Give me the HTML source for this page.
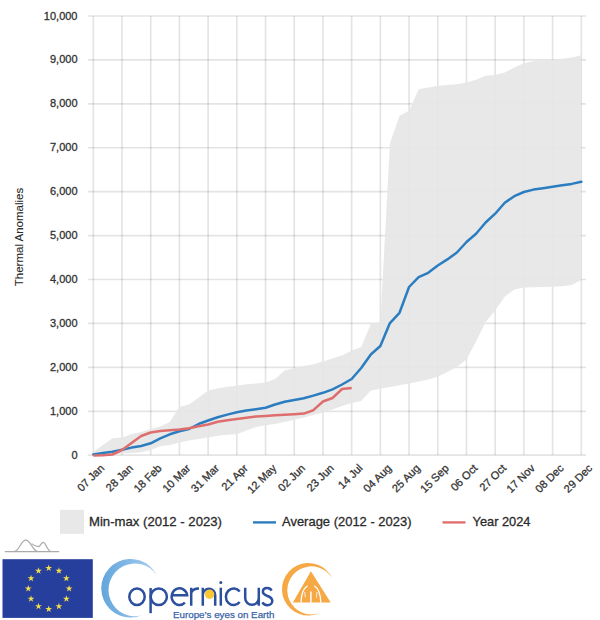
<!DOCTYPE html>
<html><head><meta charset="utf-8"><style>
html,body{margin:0;padding:0;background:#fff;}
body{width:600px;height:620px;overflow:hidden;position:relative;font-family:"Liberation Sans",sans-serif;}
svg{position:absolute;left:0;top:0;}
</style></head><body>
<svg width="600" height="620" viewBox="0 0 600 620" font-family="Liberation Sans, sans-serif">
<defs><linearGradient id="cg" x1="0" y1="0" x2="1" y2="0"><stop offset="0" stop-color="#62a6dc"/><stop offset="1" stop-color="#a6cdee"/></linearGradient></defs>
<rect width="600" height="620" fill="#fff"/>
<g stroke="#000" stroke-opacity="0.105" stroke-width="1.7">
<line x1="88" y1="455.20" x2="586" y2="455.20"/><line x1="88" y1="411.28" x2="586" y2="411.28"/><line x1="88" y1="367.36" x2="586" y2="367.36"/><line x1="88" y1="323.44" x2="586" y2="323.44"/><line x1="88" y1="279.52" x2="586" y2="279.52"/><line x1="88" y1="235.60" x2="586" y2="235.60"/><line x1="88" y1="191.68" x2="586" y2="191.68"/><line x1="88" y1="147.76" x2="586" y2="147.76"/><line x1="88" y1="103.84" x2="586" y2="103.84"/><line x1="88" y1="59.92" x2="586" y2="59.92"/><line x1="88" y1="16.00" x2="586" y2="16.00"/><line x1="93.30" y1="16" x2="93.30" y2="455"/><line x1="122.01" y1="16" x2="122.01" y2="455"/><line x1="150.71" y1="16" x2="150.71" y2="455"/><line x1="179.42" y1="16" x2="179.42" y2="455"/><line x1="208.12" y1="16" x2="208.12" y2="455"/><line x1="236.83" y1="16" x2="236.83" y2="455"/><line x1="265.54" y1="16" x2="265.54" y2="455"/><line x1="294.24" y1="16" x2="294.24" y2="455"/><line x1="322.95" y1="16" x2="322.95" y2="455"/><line x1="351.65" y1="16" x2="351.65" y2="455"/><line x1="380.36" y1="16" x2="380.36" y2="455"/><line x1="409.06" y1="16" x2="409.06" y2="455"/><line x1="437.77" y1="16" x2="437.77" y2="455"/><line x1="466.48" y1="16" x2="466.48" y2="455"/><line x1="495.18" y1="16" x2="495.18" y2="455"/><line x1="523.89" y1="16" x2="523.89" y2="455"/><line x1="552.59" y1="16" x2="552.59" y2="455"/><line x1="581.30" y1="16" x2="581.30" y2="455"/>
</g>
<path d="M93.30,451.70 L102.87,445.00 L112.44,438.30 L122.01,437.50 L131.57,434.00 L141.14,432.00 L150.71,429.00 L160.28,426.50 L169.85,422.00 L179.42,407.00 L188.99,404.50 L198.55,397.75 L208.12,390.50 L217.69,388.40 L227.26,386.70 L236.83,385.70 L246.40,384.30 L255.97,383.40 L265.54,382.40 L275.10,378.90 L284.67,370.50 L294.24,367.90 L303.81,366.00 L313.38,364.30 L322.95,361.50 L332.52,358.50 L342.08,355.50 L351.65,350.60 L361.22,347.00 L370.79,324.00 L380.36,322.00 L389.93,143.60 L399.50,115.80 L409.06,110.80 L418.63,89.20 L428.20,87.50 L437.77,85.80 L447.34,85.00 L456.91,84.20 L466.48,82.50 L476.05,79.70 L485.61,75.80 L495.18,75.00 L504.75,72.50 L514.32,67.50 L523.89,63.30 L533.46,61.30 L543.03,60.30 L552.59,59.70 L562.16,58.70 L571.73,57.50 L581.30,55.30 L581.30,279.70 L571.73,285.00 L562.16,286.30 L552.59,286.70 L543.03,287.00 L533.46,287.20 L523.89,287.50 L514.32,289.40 L504.75,296.70 L495.18,310.50 L485.61,322.00 L476.05,341.50 L466.48,359.50 L456.91,367.00 L447.34,371.90 L437.77,376.70 L428.20,379.60 L418.63,381.50 L409.06,383.50 L399.50,385.30 L389.93,387.00 L380.36,388.70 L370.79,390.50 L361.22,401.10 L351.65,403.00 L342.08,406.00 L332.52,409.50 L322.95,412.40 L313.38,415.00 L303.81,417.50 L294.24,419.80 L284.67,422.00 L275.10,424.00 L265.54,425.30 L255.97,427.00 L246.40,430.50 L236.83,434.30 L227.26,434.80 L217.69,435.80 L208.12,437.50 L198.55,439.00 L188.99,440.50 L179.42,442.50 L169.85,445.00 L160.28,446.30 L150.71,450.00 L141.14,452.30 L131.57,453.00 L122.01,453.50 L112.44,455.00 L102.87,455.00 L93.30,455.00 Z" fill="#e6e6e6" fill-opacity="0.92"/>
<polyline points="93.30,454.60 102.87,453.10 112.44,451.80 122.01,449.80 131.57,447.60 141.14,446.00 150.71,443.30 160.28,438.30 169.85,434.30 179.42,431.30 188.99,429.00 198.55,424.00 208.12,420.50 217.69,417.20 227.26,414.60 236.83,412.30 246.40,410.50 255.97,409.20 265.54,407.80 275.10,404.50 284.67,401.80 294.24,400.00 303.81,398.30 313.38,395.60 322.95,392.80 332.52,389.30 342.08,384.50 351.65,379.00 361.22,368.00 370.79,354.50 380.36,346.00 389.93,323.10 399.50,312.80 409.06,287.00 418.63,277.20 428.20,272.80 437.77,265.50 447.34,259.40 456.91,252.50 466.48,242.00 476.05,233.80 485.61,222.50 495.18,213.70 504.75,202.70 514.32,196.20 523.89,192.00 533.46,189.60 543.03,188.20 552.59,186.70 562.16,185.30 571.73,183.90 581.30,181.80" fill="none" stroke="#2b7dc0" stroke-width="2.5" stroke-linejoin="round" stroke-linecap="round"/>
<polyline points="93.30,455.60 102.87,455.30 112.44,454.50 122.01,450.00 131.57,442.90 141.14,436.00 150.71,432.50 160.28,431.00 169.85,430.30 179.42,429.50 188.99,428.20 198.55,426.30 208.12,424.50 217.69,421.80 227.26,420.30 236.83,419.00 246.40,417.80 255.97,416.60 265.54,416.00 275.10,415.30 284.67,414.70 294.24,414.20 303.81,413.60 313.38,410.20 322.95,401.50 332.52,398.00 342.08,389.00 351.65,388.00" fill="none" stroke="#de6e6e" stroke-width="2.5" stroke-linejoin="round" stroke-linecap="butt"/>
<g font-size="11" fill="#333" stroke="#333" stroke-width="0.3">
<text x="77.5" y="458.70" text-anchor="end">0</text><text x="77.5" y="414.78" text-anchor="end">1,000</text><text x="77.5" y="370.86" text-anchor="end">2,000</text><text x="77.5" y="326.94" text-anchor="end">3,000</text><text x="77.5" y="283.02" text-anchor="end">4,000</text><text x="77.5" y="239.10" text-anchor="end">5,000</text><text x="77.5" y="195.18" text-anchor="end">6,000</text><text x="77.5" y="151.26" text-anchor="end">7,000</text><text x="77.5" y="107.34" text-anchor="end">8,000</text><text x="77.5" y="63.42" text-anchor="end">9,000</text><text x="77.5" y="19.50" text-anchor="end">10,000</text>
<text transform="translate(105.00,468.8) rotate(-45)" text-anchor="end">07 Jan</text><text transform="translate(133.71,468.8) rotate(-45)" text-anchor="end">28 Jan</text><text transform="translate(162.41,468.8) rotate(-45)" text-anchor="end">18 Feb</text><text transform="translate(191.12,468.8) rotate(-45)" text-anchor="end">10 Mar</text><text transform="translate(219.82,468.8) rotate(-45)" text-anchor="end">31 Mar</text><text transform="translate(248.53,468.8) rotate(-45)" text-anchor="end">21 Apr</text><text transform="translate(277.24,468.8) rotate(-45)" text-anchor="end">12 May</text><text transform="translate(305.94,468.8) rotate(-45)" text-anchor="end">02 Jun</text><text transform="translate(334.65,468.8) rotate(-45)" text-anchor="end">23 Jun</text><text transform="translate(363.35,468.8) rotate(-45)" text-anchor="end">14 Jul</text><text transform="translate(392.06,468.8) rotate(-45)" text-anchor="end">04 Aug</text><text transform="translate(420.76,468.8) rotate(-45)" text-anchor="end">25 Aug</text><text transform="translate(449.47,468.8) rotate(-45)" text-anchor="end">15 Sep</text><text transform="translate(478.18,468.8) rotate(-45)" text-anchor="end">06 Oct</text><text transform="translate(506.88,468.8) rotate(-45)" text-anchor="end">27 Oct</text><text transform="translate(535.59,468.8) rotate(-45)" text-anchor="end">17 Nov</text><text transform="translate(564.29,468.8) rotate(-45)" text-anchor="end">08 Dec</text><text transform="translate(593.00,468.8) rotate(-45)" text-anchor="end">29 Dec</text>
</g>
<text transform="translate(23,237) rotate(-90)" text-anchor="middle" font-size="11.5" fill="#2a2a2a" stroke="#2a2a2a" stroke-width="0.1">Thermal Anomalies</text>
<!-- legend -->
<rect x="60" y="509.8" width="24" height="24" fill="#e8e8e8"/>
<g font-size="13.5" fill="#2a2a2a" stroke="#2a2a2a" stroke-width="0.3">
<text x="89" y="526.3" textLength="133" lengthAdjust="spacingAndGlyphs">Min-max (2012 - 2023)</text>
<text x="282" y="526.3" textLength="129.5" lengthAdjust="spacingAndGlyphs">Average (2012 - 2023)</text>
<text x="472.5" y="526.3" textLength="58" lengthAdjust="spacingAndGlyphs">Year 2024</text>
</g>
<line x1="253" y1="522.4" x2="276" y2="522.4" stroke="#2b7dc0" stroke-width="2.4"/>
<line x1="442.5" y1="522.4" x2="465.5" y2="522.4" stroke="#e07070" stroke-width="2.4"/>
<!-- small wave logo -->
<g fill="none" stroke="#ababab" stroke-width="1.2">
<path d="M4.8,551.7 L59.2,551.7"/>
<path d="M13.5,551.7 C19.5,551.7 20.5,540.2 25.8,540.2 C31,540.2 32.5,551.7 38.5,551.7"/>
<path d="M31.6,543.6 C34,545.5 36.5,546.8 38.7,546.6 C40.6,546 41.4,542.3 43.3,542.3 C46,542.3 47,551.7 51.5,551.7"/>
</g>
<!-- EU flag -->
<rect x="2.5" y="559.2" width="90.3" height="58.7" fill="#263f9c"/>
<g fill="#f2dd4c"><polygon points="48.70,564.60 49.51,567.09 52.12,567.09 50.01,568.62 50.82,571.11 48.70,569.58 46.58,571.11 47.39,568.62 45.28,567.09 47.89,567.09"/><polygon points="58.90,567.33 59.71,569.82 62.32,569.82 60.21,571.36 61.02,573.85 58.90,572.31 56.78,573.85 57.59,571.36 55.48,569.82 58.09,569.82"/><polygon points="66.37,574.80 67.18,577.29 69.79,577.29 67.67,578.82 68.48,581.31 66.37,579.78 64.25,581.31 65.06,578.82 62.94,577.29 65.56,577.29"/><polygon points="69.10,585.00 69.91,587.49 72.52,587.49 70.41,589.02 71.22,591.51 69.10,589.98 66.98,591.51 67.79,589.02 65.68,587.49 68.29,587.49"/><polygon points="66.37,595.20 67.18,597.69 69.79,597.69 67.67,599.22 68.48,601.71 66.37,600.18 64.25,601.71 65.06,599.22 62.94,597.69 65.56,597.69"/><polygon points="58.90,602.67 59.71,605.15 62.32,605.15 60.21,606.69 61.02,609.18 58.90,607.64 56.78,609.18 57.59,606.69 55.48,605.15 58.09,605.15"/><polygon points="48.70,605.40 49.51,607.89 52.12,607.89 50.01,609.42 50.82,611.91 48.70,610.38 46.58,611.91 47.39,609.42 45.28,607.89 47.89,607.89"/><polygon points="38.50,602.67 39.31,605.15 41.92,605.15 39.81,606.69 40.62,609.18 38.50,607.64 36.38,609.18 37.19,606.69 35.08,605.15 37.69,605.15"/><polygon points="31.03,595.20 31.84,597.69 34.46,597.69 32.34,599.22 33.15,601.71 31.03,600.18 28.92,601.71 29.73,599.22 27.61,597.69 30.22,597.69"/><polygon points="28.30,585.00 29.11,587.49 31.72,587.49 29.61,589.02 30.42,591.51 28.30,589.98 26.18,591.51 26.99,589.02 24.88,587.49 27.49,587.49"/><polygon points="31.03,574.80 31.84,577.29 34.46,577.29 32.34,578.82 33.15,581.31 31.03,579.78 28.92,581.31 29.73,578.82 27.61,577.29 30.22,577.29"/><polygon points="38.50,567.33 39.31,569.82 41.92,569.82 39.81,571.36 40.62,573.85 38.50,572.31 36.38,573.85 37.19,571.36 35.08,569.82 37.69,569.82"/></g>
<!-- copernicus -->
<path d="M156.78,575.15 A29.3,29.3 0 1 0 141.82,615.37 A26.39,26.39 0 1 1 156.78,575.15 Z" fill="url(#cg)"/>
<g fill="none" stroke="#2c4f9e" stroke-width="2.5">
<ellipse cx="137" cy="596.8" rx="7.7" ry="8.3"/>
<path d="M150.6,588 L150.6,613.2"/>
<ellipse cx="158.8" cy="596.8" rx="8.1" ry="8.3"/>
<path d="M171.55,595.2 L187.15,595.2 A7.8,8.3 0 1 0 184.9,602.6"/>
<path d="M191.2,587.7 L191.2,605.7 M191.2,593 C192.3,589.5 194.6,588.6 199,588.6"/>
<path d="M202.8,587.7 L202.8,605.7 M202.8,595 A6.2,6.2 0 0 1 215.2,595 L215.2,605.7"/>
<path d="M220.8,587.7 L220.8,605.7"/>
<path d="M239.7,591.5 A7.8,8.3 0 1 0 239.7,602.1"/>
<path d="M245.2,587.7 L245.2,598 A6.8,6.8 0 0 0 258.8,598 M258.8,587.7 L258.8,605.7"/>
<path d="M271.6,590.6 C270.5,588.6 268.8,588.1 267.2,588.1 C264.6,588.1 262.9,589.6 262.9,591.8 C262.9,594.3 265.2,595.2 267.4,596.0 C270.0,596.9 272.3,598.0 272.3,600.9 C272.3,603.6 270.0,605.2 267.3,605.2 C265.0,605.2 263.3,604.1 262.4,602.4"/>
</g>
<circle cx="220.8" cy="582.4" r="1.5" fill="#2c4f9e"/>
<circle cx="209.6" cy="594.2" r="4.7" fill="#f9c733"/>
<text x="173" y="617.6" font-size="9.5" fill="#3a63a8" stroke="#3a63a8" stroke-width="0.25" textLength="101.5" lengthAdjust="spacingAndGlyphs">Europe&#8217;s eyes on Earth</text>
<!-- orange logo -->
<path d="M332.03,577.96 A26.3,26.3 0 1 0 319.58,613.06 A24.09,24.09 0 1 1 332.03,577.96 Z" fill="#f5a843"/>
<path d="M310.9,571.3 L330.7,602.6 L292.9,602.6 Z" fill="#f5a843"/>
<g fill="none" stroke="#fff" stroke-width="1.3"><path d="M307.6,585.8 C303.6,588.3 301.2,594 301,602.8"/><path d="M314.2,585.8 C318.2,588.3 320.6,594 320.8,602.8"/>
<path d="M310.9,591.5 L310.9,603" stroke-width="1.5"/><path d="M304.8,592 L305.3,597.5 M317,592 L316.5,597.5" stroke-width="0.8"/></g>
</svg>
</body></html>
